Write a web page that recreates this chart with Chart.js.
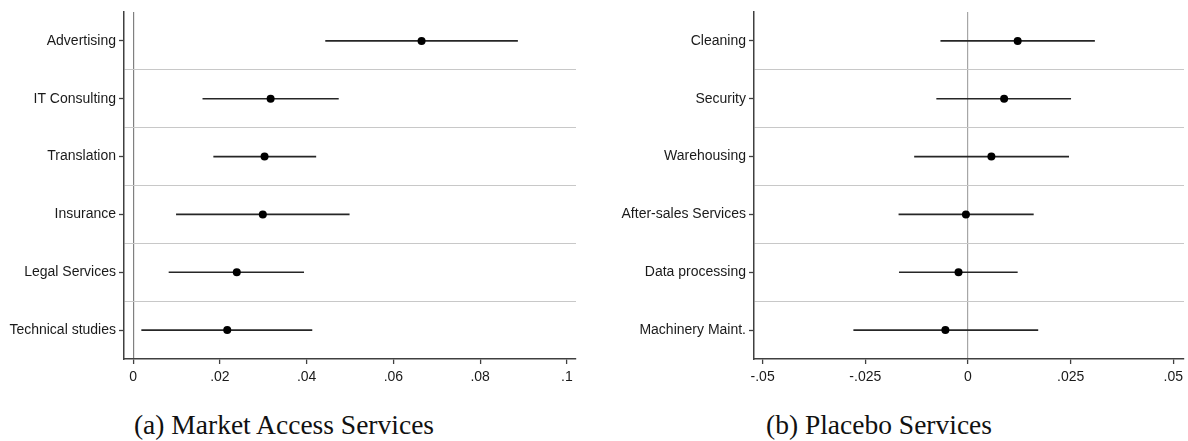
<!DOCTYPE html>
<html>
<head>
<meta charset="utf-8">
<script src="https://cdn.jsdelivr.net/npm/chart.js@4.4.0/dist/chart.umd.min.js"></script>
<style>
  html, body { margin: 0; padding: 0; background: #fff; }
  body { width: 1188px; height: 441px; position: relative; overflow: hidden; }
  canvas { position: absolute; top: 0; }
  #cvA { left: 0; }
  #cvB { left: 594px; }
  .caption {
    position: absolute; top: 409px; width: 500px; text-align: center;
    font-family: "Liberation Serif", "DejaVu Serif", serif; font-size: 27.5px; color: #111;
    white-space: nowrap;
  }
  #capA { left: 34px; }
  #capB { left: 629px; }
</style>
</head>
<body>
<canvas id="cvA" width="592" height="400"></canvas>
<canvas id="cvB" width="594" height="400"></canvas>
<div class="caption" id="capA">(a) Market Access Services</div>
<div class="caption" id="capB">(b) Placebo Services</div>
<script>
// Panel (a): market access services — point estimates with 95% confidence intervals
const marketCategories = ["Advertising", "IT Consulting", "Translation", "Insurance", "Legal Services", "Technical studies"];
const marketEstimate = [0.0665, 0.0317, 0.0303, 0.0299, 0.0239, 0.0217];
const marketLower    = [0.0443, 0.0160, 0.0185, 0.0099, 0.0082, 0.0019];
const marketUpper    = [0.0887, 0.0474, 0.0422, 0.0499, 0.0394, 0.0413];
const marketTicks      = [0, 0.02, 0.04, 0.06, 0.08, 0.1];
const marketTickLabels = ["0", ".02", ".04", ".06", ".08", ".1"];

// Panel (b): placebo services
const placeboCategories = ["Cleaning", "Security", "Warehousing", "After-sales Services", "Data processing", "Machinery Maint."];
const placeboEstimate = [0.0121, 0.0088, 0.0057, -0.0005, -0.0023, -0.0055];
const placeboLower    = [-0.0067, -0.0077, -0.0131, -0.0169, -0.0168, -0.0279];
const placeboUpper    = [0.0309, 0.0251, 0.0246, 0.0160, 0.0121, 0.0171];
const placeboTicks      = [-0.05, -0.025, 0, 0.025, 0.05];
const placeboTickLabels = ["-.05", "-.025", "0", ".025", ".05"];

const AXIS = '#404040';
const SEP = '#c8c8c8';
const LABEL_FONT = { family: '"Liberation Sans", Arial, sans-serif', size: 14 };

function buildPanel(canvasId, cfg) {
  const n = cfg.categories.length;
  const datasets = [{
    data: cfg.estimate.map((v, i) => ({ x: v, y: i + 1 })),
    pointRadius: 4, pointHoverRadius: 4,
    pointBackgroundColor: '#000', pointBorderWidth: 0,
    showLine: false, order: 0
  }];
  cfg.estimate.forEach((_, i) => {
    datasets.push({
      data: [{ x: cfg.lower[i], y: i + 1 }, { x: cfg.upper[i], y: i + 1 }],
      showLine: true, borderColor: '#262626', borderWidth: 1.6,
      pointRadius: 0, order: 1
    });
  });

  return new Chart(document.getElementById(canvasId), {
    type: 'scatter',
    data: { datasets },
    options: {
      responsive: false, animation: false, devicePixelRatio: 1,
      layout: { padding: { top: 12, right: cfg.padRight, left: 0, bottom: 0 } },
      plugins: { legend: { display: false }, tooltip: { enabled: false } },
      scales: {
        x: {
          type: 'linear', min: cfg.xMin, max: cfg.xMax,
          afterBuildTicks: s => { s.ticks = cfg.ticks.map(v => ({ value: v })); },
          afterFit: s => { s.height = 41; s.paddingLeft = 0; s.paddingRight = 0; },
          ticks: {
            autoSkip: false, maxRotation: 0, padding: 5, color: '#1a1a1a', font: LABEL_FONT,
            callback: v => cfg.tickLabels[cfg.ticks.indexOf(v)]
          },
          grid: {
            drawOnChartArea: true, tickLength: 5, tickWidth: 1.3, tickColor: AXIS,
            lineWidth: 1.2,
            color: ctx => (ctx.tick && ctx.tick.value === 0) ? cfg.zeroColor : 'rgba(0,0,0,0)'
          },
          border: { display: true, color: AXIS, width: 1.5 }
        },
        y: {
          type: 'linear', min: 0.5, max: n + 0.5, reverse: true,
          afterBuildTicks: s => {
            const t = [];
            for (let i = 1; i <= n; i++) {
              t.push({ value: i });
              if (i < n) t.push({ value: i + 0.5 });
            }
            s.ticks = t;
          },
          afterFit: s => { s.width = cfg.yWidth; s.paddingTop = 0; s.paddingBottom = 0; },
          ticks: {
            autoSkip: false, padding: 3, color: '#1a1a1a', font: LABEL_FONT,
            callback: v => Number.isInteger(v) ? cfg.categories[v - 1] : ''
          },
          grid: {
            drawOnChartArea: true, tickLength: 5, tickWidth: 1.3, lineWidth: 1,
            tickColor: ctx => Number.isInteger(ctx.tick.value) ? AXIS : 'rgba(0,0,0,0)',
            color: ctx => (ctx.tick && !Number.isInteger(ctx.tick.value)) ? SEP : 'rgba(0,0,0,0)'
          },
          border: { display: true, color: AXIS, width: 1.5 }
        }
      }
    }
  });
}

buildPanel('cvA', {
  categories: marketCategories, estimate: marketEstimate,
  lower: marketLower, upper: marketUpper,
  ticks: marketTicks, tickLabels: marketTickLabels,
  xMin: -0.0021, xMax: 0.1021, yWidth: 124, padRight: 16, zeroColor: '#808080'
});

buildPanel('cvB', {
  categories: placeboCategories, estimate: placeboEstimate,
  lower: placeboLower, upper: placeboUpper,
  ticks: placeboTicks, tickLabels: placeboTickLabels,
  xMin: -0.0521, xMax: 0.0526, yWidth: 160, padRight: 0, zeroColor: '#a6a6a6'
});
</script>
</body>
</html>
